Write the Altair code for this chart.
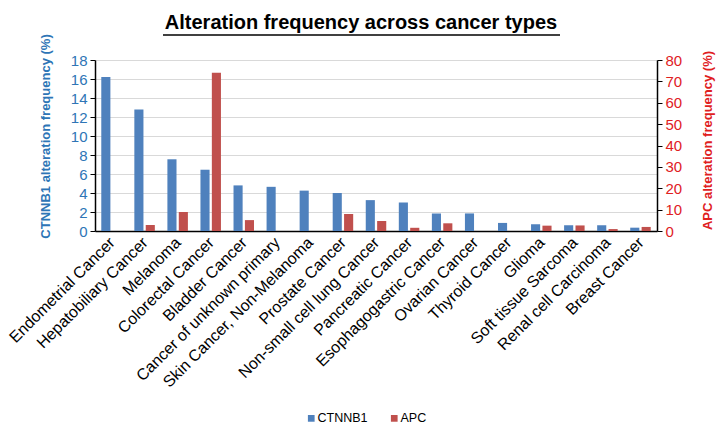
import altair as alt
import pandas as pd

chart_title = "Alteration frequency across cancer types"
categories = [
    "Endometrial Cancer", "Hepatobiliary Cancer", "Melanoma", "Colorectal Cancer",
    "Bladder Cancer", "Cancer of unknown primary", "Skin Cancer, Non-Melanoma",
    "Prostate Cancer", "Non-small cell lung Cancer", "Pancreatic Cancer",
    "Esophagogastric Cancer", "Ovarian Cancer", "Thyroid Cancer", "Glioma",
    "Soft tissue Sarcoma", "Renal cell Carcinoma", "Breast Cancer",
]
ctnnb1 = [16.2, 12.8, 7.55, 6.45, 4.8, 4.65, 4.25, 4.0, 3.25, 3.0,
          1.85, 1.85, 0.85, 0.7, 0.6, 0.6, 0.35]
apc = [0.0, 2.8, 8.9, 74.0, 5.1, 0.0, 0.0, 7.9, 4.7, 1.5,
       3.6, 0.0, 0.0, 2.5, 2.6, 0.9, 1.9]
genes = ["CTNNB1", "APC"]
gene_colors = ["#4F81BD", "#C0504D"]

rows = []
for c, v in zip(categories, ctnnb1):
    rows.append({"cancer": c, "gene": "CTNNB1", "value": v})
for c, v in zip(categories, apc):
    rows.append({"cancer": c, "gene": "APC", "value": v})
df = pd.DataFrame(rows)

BLUE_TXT = "#2E75B6"
RED_TXT = "#E0201E"

x_enc = alt.X(
    "cancer:N", sort=categories,
    scale=alt.Scale(paddingInner=0.38, paddingOuter=0.19),
    axis=alt.Axis(title=None, labelAngle=-45, labelAlign="right", labelBaseline="top",
                  labelFontSize=16, labelColor="black", labelPadding=3, labelOffset=-5,
                  domainColor="black", domainWidth=1.5, ticks=False, grid=False,
                  labelLimit=300),
)
xoff = alt.XOffset("gene:N", sort=genes,
                   scale=alt.Scale(domain=genes, paddingInner=0.2, paddingOuter=0))
color = alt.Color("gene:N", sort=genes,
                  scale=alt.Scale(domain=genes, range=gene_colors),
                  legend=alt.Legend(title=None, orient="none", direction="horizontal",
                                    legendX=210, legendY=352, symbolType="square",
                                    symbolSize=45, labelFontSize=12.5, labelColor="black",
                                    labelOffset=0, columnPadding=20, symbolStrokeWidth=0))

left = alt.Chart(df).transform_filter(alt.datum.gene == "CTNNB1").mark_bar().encode(
    x=x_enc, xOffset=xoff, color=color,
    y=alt.Y("value:Q", scale=alt.Scale(domain=[0, 18], nice=False),
            axis=alt.Axis(title="CTNNB1 alteration  frequency (%)", values=list(range(0, 19, 2)),
                          labelColor=BLUE_TXT, labelFontSize=15, titleColor=BLUE_TXT,
                          titleFontSize=13, titleFontWeight="bold",
                          titleX=-50, titleY=76, titleAngle=270, titleAlign="center",
                          titleBaseline="middle",
                          domainColor="black", domainWidth=1.5, tickColor="black",
                          tickSize=5, labelPadding=3, grid=True, gridColor="#D9D9D9")),
)

right = alt.Chart(df).transform_filter(alt.datum.gene == "APC").mark_bar().encode(
    x=x_enc, xOffset=xoff, color=color,
    y=alt.Y("value:Q", scale=alt.Scale(domain=[0, 80], nice=False),
            axis=alt.Axis(title="APC alteration  frequency (%)", orient="right",
                          values=list(range(0, 81, 10)),
                          labelColor=RED_TXT, labelFontSize=15, titleColor=RED_TXT,
                          titleFontSize=13, titleFontWeight="bold",
                          titleX=50, titleY=80, titleAngle=270, titleAlign="center",
                          titleBaseline="middle",
                          domainColor="black", domainWidth=1.5, tickColor="black",
                          tickSize=5, labelPadding=3, grid=False)),
)

title_df = pd.DataFrame({"t": [chart_title]})
title_text = alt.Chart(title_df).mark_text(
    fontSize=20, fontWeight="bold", color="black", align="center", baseline="alphabetic"
).encode(x=alt.value(266), y=alt.value(-31), text="t:N")

underline = alt.Chart(title_df).mark_rule(color="black", strokeWidth=1.5).encode(
    x=alt.value(68), x2=alt.value(465), y=alt.value(-25)
)

chart = alt.layer(left, right, title_text, underline).resolve_scale(y="independent").properties(
    width=562, height=171,
    autosize=alt.AutoSizeParams(type="none"),
    padding={"left": 87, "top": 52, "right": 61, "bottom": 195},
).configure(font="Liberation Sans").configure_view(stroke=None)

chart.save("out.html", embed_options={"renderer": "svg", "actions": False})
